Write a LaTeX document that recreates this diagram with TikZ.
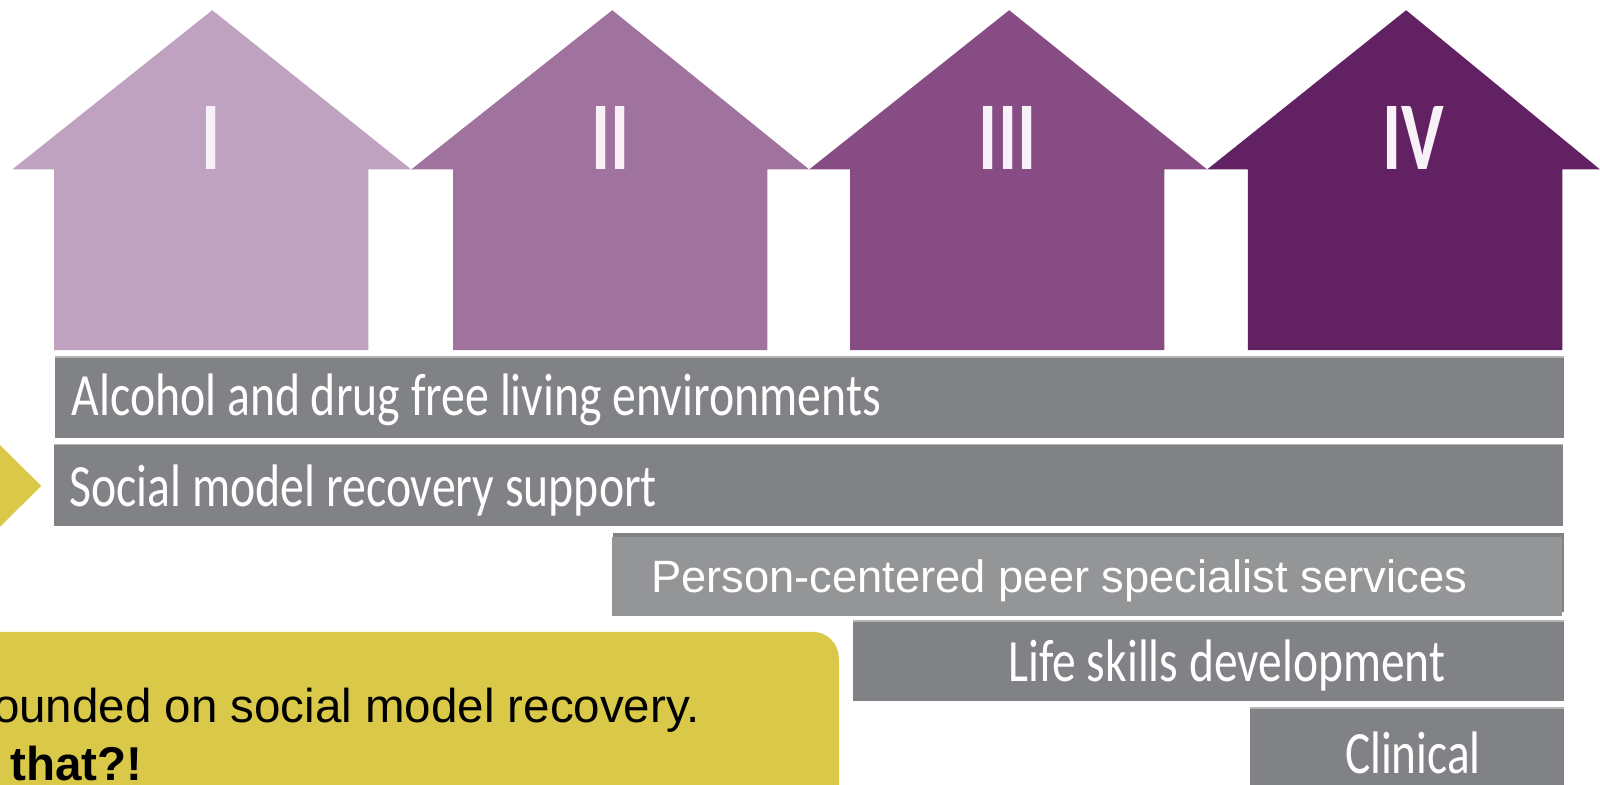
\documentclass[tikz,border=0pt]{standalone}
\usepackage{fontspec}
\setmainfont{Liberation Sans}
\newfontfamily\barfont{Carlito}
\definecolor{hOne}{HTML}{BFA2C0}
\definecolor{hTwo}{HTML}{A0739F}
\definecolor{hThree}{HTML}{874C84}
\definecolor{hFour}{HTML}{612162}
\definecolor{barGrey}{HTML}{808285}
\definecolor{barLight}{HTML}{949597}
\definecolor{barEdge}{HTML}{B4B5B7}
\definecolor{numWhite}{HTML}{F8F1F8}
\definecolor{mustard}{HTML}{DAC949}
\tikzset{
  x=1.0204pt,y=-1.0208pt,
  barbox/.style={draw=none,fill=barGrey},
  baredge/.style={draw=barEdge,line width=1.6pt},
  bartext/.style={text=white,inner sep=0pt,font=\barfont\fontsize{48}{48}\selectfont},
  numeral/.style={text=numWhite,inner sep=0pt,font=\barfont\bfseries\fontsize{72}{72}\selectfont},
  calltext/.style={text=black,inner sep=0pt,font=\fontsize{47.5}{47.5}\selectfont,anchor=base east}
}
\begin{document}
\begin{tikzpicture}
\useasboundingbox (0,0) rectangle (1568,769);
\clip (0,0) rectangle (1568,769);
% houses
\fill[hOne] (208,10) -- (403,166) -- (361,166) -- (361,343) -- (53,343) -- (53,166) -- (12,166) -- cycle;
\fill[hTwo] (600,10) -- (793,166) -- (752,166) -- (752,343) -- (444,343) -- (444,166) -- (403,166) -- cycle;
\fill[hThree] (989,10) -- (1183,166) -- (1141,166) -- (1141,343) -- (833,343) -- (833,166) -- (793,166) -- cycle;
\fill[hFour] (1378,10) -- (1568,166) -- (1531,166) -- (1531,343) -- (1223,343) -- (1223,166) -- (1183,166) -- cycle;
\node[numeral] (n1) at (206.5,135) {\scalebox{1}[1.35]{I}};
\node[numeral] (n2) at (598.5,135) {\scalebox{1}[1.35]{II}};
\node[numeral] (n3) at (987.5,135) {\scalebox{1}[1.35]{III}};
\node[numeral] (n4) at (1385,135) {\scalebox{1}[1.35]{IV}};
% bars
\fill[barbox] (54,349) rectangle (1533,429);
\draw[baredge] (54,349.5) -- (1533,349.5);
\fill[barbox] (53,435) rectangle (1532,515);
\draw[baredge] (53,435.5) -- (1532,435.5);
\fill[barbox] (601,522) rectangle (1533,600);
\fill[barLight] (600,526) rectangle (1531,603);
\fill[barbox] (836,608) rectangle (1533,687);
\draw[baredge] (836,608.5) -- (1533,608.5);
\fill[barbox] (1225,693) rectangle (1533,769);
\draw[baredge] (1225,693.5) -- (1533,693.5);
\node[bartext,anchor=base west] (b1) at (70,407) {\scalebox{.995}[1.25]{Alcohol and drug free living environments}};
\node[bartext,anchor=base west] (b2) at (68,496) {\scalebox{.995}[1.25]{Social model recovery support}};
\node[inner sep=0pt,text=white,anchor=base west,font=\fontsize{45.3}{45.3}\selectfont] (b3) at (638,580) {Person-centered peer specialist services};
\node[bartext,anchor=base west] (b4) at (988,668) {\scalebox{.99}[1.25]{Life skills development}};
\node[bartext,anchor=base west] (b5) at (1318,758) {\scalebox{.985}[1.25]{Clinical}};
% arrow and call-out
\fill[mustard] (-5,431) -- (0,436) -- (40.5,476) -- (0,516) -- (-5,521) -- cycle;
\fill[mustard,rounded corners=26] (-40,619) rectangle (822,820);
\node[calltext] (c1) at (686,708) {ounded on social model recovery.};
\node[calltext,font=\fontsize{47.5}{47.5}\selectfont\bfseries] (c2) at (139.5,765) {that?!};
\end{tikzpicture}
\end{document}
